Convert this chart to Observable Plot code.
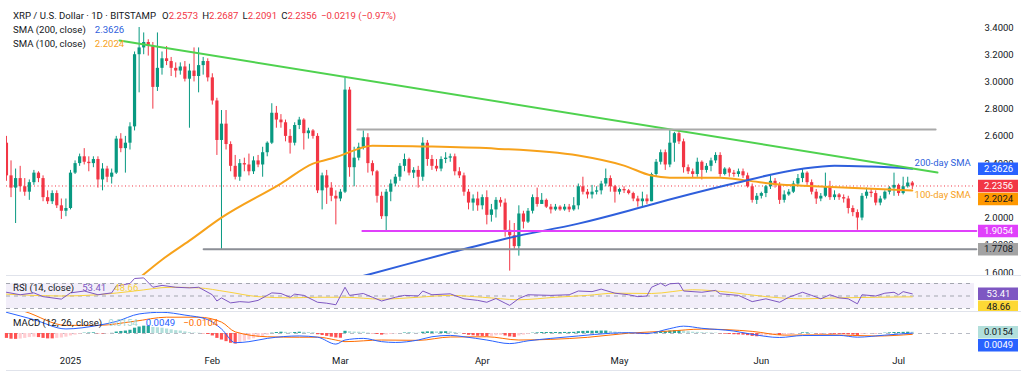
<!DOCTYPE html>
<html><head><meta charset="utf-8">
<script src="https://cdn.jsdelivr.net/npm/d3@7"></script>
<script src="https://cdn.jsdelivr.net/npm/@observablehq/plot@0.6"></script>
<style>
body{margin:0;background:#fff;}
#chart{position:relative;width:1024px;height:378px;overflow:hidden;font-family:Roboto,"Noto Sans",sans-serif;color:#131722;background:#fff;}
#chart svg{position:absolute;left:0;}
.lg{position:absolute;left:13px;font-size:9.6px;line-height:10px;white-space:pre;}
.sep{position:absolute;left:6px;width:1015px;height:1px;background:#e0e3eb;}
</style></head><body><div id="chart"></div>
<script>
// ---------------- DATA ----------------
const startDate = "2024-12-18"; // day index 0
const opens = [
2.55,2.31,2.22,2.29,2.23,2.19,2.26,2.33,2.29,2.15,
2.12,2.18,2.09,2.05,2.07,2.33,2.40,2.45,2.41,2.40,
2.43,2.28,2.36,2.30,2.33,2.58,2.51,2.55,2.67,3.20,
3.25,3.29,3.26,2.96,3.10,3.17,3.15,3.10,3.08,3.11,
3.02,3.08,3.04,3.12,3.15,3.03,2.86,2.57,2.69,2.54,
2.38,2.30,2.40,2.39,2.34,2.42,2.39,2.48,2.55,2.77,
2.72,2.70,2.60,2.55,2.68,2.72,2.62,2.64,2.60,2.20,
2.31,2.22,2.16,2.14,2.19,2.94,2.37,2.44,2.52,2.59,
2.40,2.34,2.16,2.01,2.19,2.25,2.30,2.38,2.43,2.33,
2.35,2.30,2.55,2.43,2.38,2.36,2.43,2.44,2.45,2.34,
2.31,2.19,2.11,2.14,2.09,2.15,2.02,2.06,2.13,2.11,
1.91,1.87,1.79,2.03,1.97,2.05,2.15,2.10,2.13,2.08,
2.06,2.08,2.06,2.08,2.06,2.09,2.23,2.19,2.17,2.19,
2.20,2.25,2.29,2.23,2.19,2.21,2.20,2.18,2.14,2.12,
2.14,2.12,2.32,2.41,2.48,2.39,2.55,2.62,2.56,2.37,
2.34,2.32,2.41,2.35,2.38,2.42,2.46,2.32,2.36,2.33,
2.32,2.34,2.31,2.23,2.13,2.16,2.18,2.23,2.27,2.24,
2.13,2.17,2.19,2.25,2.29,2.33,2.26,2.19,2.14,2.16,
2.23,2.15,2.17,2.15,2.14,2.07,2.04,2.00,2.16,2.19,
2.18,2.11,2.14,2.19,2.22,2.24,2.18,2.23,2.2573];
const highs = [
2.60,2.42,2.36,2.38,2.29,2.28,2.35,2.34,2.31,2.20,
2.20,2.20,2.14,2.14,2.35,2.42,2.47,2.51,2.45,2.45,
2.45,2.40,2.38,2.36,2.60,2.62,2.60,2.70,3.22,3.40,
3.36,3.31,3.29,3.36,3.22,3.26,3.18,3.14,3.14,3.15,
3.13,3.25,3.25,3.18,3.17,3.06,2.88,2.79,2.79,2.56,
2.46,2.43,2.44,2.47,2.45,2.46,2.52,2.56,2.84,2.82,
2.76,2.72,2.65,2.70,2.74,2.73,2.66,2.65,2.62,2.33,
2.35,2.26,2.20,2.21,3.03,2.96,2.52,2.55,2.64,2.62,
2.42,2.35,2.19,2.21,2.28,2.32,2.40,2.47,2.44,2.37,
2.38,2.59,2.57,2.46,2.43,2.45,2.48,2.47,2.47,2.37,
2.33,2.21,2.17,2.19,2.17,2.20,2.10,2.15,2.15,2.14,
1.98,1.96,2.09,2.05,2.07,2.17,2.22,2.18,2.14,2.10,
2.10,2.09,2.10,2.10,2.15,2.25,2.30,2.21,2.24,2.23,
2.27,2.36,2.31,2.24,2.22,2.23,2.21,2.19,2.16,2.19,
2.17,2.33,2.43,2.50,2.50,2.65,2.63,2.64,2.58,2.39,
2.36,2.44,2.42,2.40,2.44,2.48,2.48,2.37,2.37,2.35,
2.36,2.36,2.33,2.25,2.18,2.19,2.24,2.31,2.29,2.26,
2.20,2.21,2.27,2.32,2.36,2.34,2.28,2.21,2.18,2.33,
2.27,2.20,2.18,2.17,2.16,2.09,2.06,2.18,2.22,2.21,
2.20,2.16,2.20,2.23,2.33,2.25,2.30,2.30,2.2687];
const lows = [
2.27,2.15,1.96,2.19,2.16,2.13,2.24,2.26,2.12,2.10,
2.10,2.07,1.99,2.01,2.06,2.32,2.38,2.39,2.34,2.37,
2.22,2.20,2.26,2.25,2.32,2.48,2.33,2.50,2.64,2.92,
3.20,3.19,2.80,2.93,3.05,3.12,3.04,3.03,3.05,3.00,
2.66,3.00,2.92,3.05,3.00,2.83,2.46,1.77,2.50,2.34,
2.28,2.27,2.34,2.31,2.32,2.37,2.30,2.45,2.54,2.66,
2.66,2.56,2.47,2.53,2.65,2.50,2.58,2.58,2.18,2.06,
2.10,2.12,1.95,2.12,2.18,2.30,2.23,2.42,2.50,2.33,
2.31,2.11,1.99,1.90,2.12,2.23,2.27,2.34,2.31,2.29,
2.22,2.27,2.38,2.35,2.34,2.34,2.40,2.41,2.31,2.29,
2.16,2.06,2.05,2.05,2.06,1.95,1.97,2.00,2.08,1.86,
1.61,1.77,1.72,1.92,1.96,2.03,2.08,2.10,2.07,2.03,
2.05,2.05,2.05,2.04,2.05,2.06,2.17,2.14,2.14,2.17,
2.17,2.23,2.19,2.11,2.17,2.18,2.17,2.12,2.08,2.08,
2.10,2.12,2.30,2.39,2.35,2.37,2.41,2.54,2.33,2.32,
2.29,2.30,2.28,2.33,2.34,2.40,2.30,2.31,2.30,2.30,
2.30,2.29,2.22,2.11,2.10,2.14,2.15,2.21,2.22,2.10,
2.11,2.16,2.18,2.23,2.26,2.24,2.17,2.10,2.12,2.15,
2.13,2.13,2.13,2.11,2.03,2.01,1.91,1.98,2.14,2.15,
2.09,2.09,2.13,2.17,2.16,2.16,2.17,2.22,2.2091];
const closes = [
2.31,2.22,2.29,2.23,2.19,2.26,2.33,2.29,2.15,2.12,
2.18,2.09,2.05,2.07,2.33,2.40,2.45,2.41,2.40,2.43,
2.28,2.36,2.30,2.33,2.58,2.51,2.55,2.67,3.20,3.25,
3.29,3.26,2.96,3.10,3.17,3.15,3.10,3.08,3.11,3.02,
3.08,3.04,3.12,3.15,3.03,2.86,2.57,2.69,2.54,2.38,
2.30,2.40,2.39,2.34,2.42,2.39,2.48,2.55,2.77,2.72,
2.70,2.60,2.55,2.68,2.72,2.62,2.64,2.60,2.20,2.31,
2.22,2.16,2.14,2.19,2.94,2.37,2.44,2.52,2.59,2.40,
2.34,2.16,2.01,2.19,2.25,2.30,2.38,2.43,2.33,2.35,
2.30,2.55,2.43,2.38,2.36,2.43,2.44,2.45,2.34,2.31,
2.19,2.11,2.14,2.09,2.15,2.02,2.06,2.13,2.11,1.91,
1.87,1.79,2.03,1.97,2.05,2.15,2.10,2.13,2.08,2.06,
2.08,2.06,2.08,2.06,2.09,2.23,2.19,2.17,2.19,2.20,
2.25,2.29,2.23,2.19,2.21,2.20,2.18,2.14,2.12,2.14,
2.12,2.32,2.41,2.48,2.39,2.55,2.62,2.56,2.37,2.34,
2.32,2.41,2.35,2.38,2.42,2.46,2.32,2.36,2.33,2.32,
2.34,2.31,2.23,2.13,2.16,2.18,2.23,2.27,2.24,2.13,
2.17,2.19,2.25,2.29,2.33,2.26,2.19,2.14,2.16,2.23,
2.15,2.17,2.15,2.14,2.07,2.04,2.00,2.16,2.19,2.18,
2.11,2.14,2.19,2.22,2.24,2.18,2.23,2.2573,2.2356];

// moving averages (day index, price)
const sma100Days = [28,34,40,47,60,67,71,73,80,93,107,125,135,141,145,156,162,169,174,198];
const sma100Vals = [1.53,1.694,1.834,2.003,2.253,2.40,2.437,2.459,2.532,2.525,2.51,2.459,2.385,2.312,2.297,2.297,2.275,2.246,2.238,2.2024];
const sma200Days = [74,79,97,110,125,136,140,158,174,181,189,198];
const sma200Vals = [1.54,1.584,1.746,1.856,1.959,2.054,2.091,2.246,2.363,2.385,2.378,2.3626];

// drawn lines (day index, price)
const trendDays = [24.7,203.5], trendPrices = [3.304,2.334];
const rangeTopDays = [76.7,203.1], rangeTopPrice = 2.65;
const supportDays = [77.8,212], supportPrice = 1.9054;
const floorDays = [43.1,212], floorPrice = 1.7708;
const lastPrice = 2.2356;

const priceTicks = [1.6,1.8,2.0,2.2,2.4,2.6,2.8,3.0,3.2,3.4];
const priceTagValues = [2.3626,2.2356,2.2024,1.9054,1.7708];
const noteDays = [198.5,198.5], notePrices = [2.404,2.172], noteTexts = ["200-day SMA","100-day SMA"];

// RSI (14) and its MA
const rsiDays = [0,3,6,8,12,14,17,20,23,24,27,28,30,32,34,37,40,42,45,46,47,49,51,53,55,58,60,62,63,65,68,70,72,74,75,78,80,82,85,87,90,91,93,97,100,103,105,107,109,110,112,114,119,123,125,128,130,133,136,138,140,141,143,144,145,147,148,152,155,156,160,163,166,169,171,174,176,178,180,182,184,186,187,190,192,194,195,196,198];
const rsiVals = [56,52,55,49,45,55,58,52,55,66,70,78,79,64,67,64,63,64,52,42,47,39,41,40,43,55,54,48,53,51,40,38.5,36,64,51,54,48,42,48,51,50,58,52,53.5,45.5,43,40,46,38.5,35,46,52,51,52,58,57,61,54.5,52,49,50,64,70.5,66,69.5,70.5,58,56,59,53.5,51,41,45.5,40,48,56,51,45.5,52,47,45.5,37.5,52,50,54.5,56,52,57,53.41];
const rsiMaDays = [0,6,12,20,28,36,42,48,55,62,68,74,82,90,97,104,112,120,127,133,141,150,158,166,174,182,190,198];
const rsiMaVals = [53,51,50,52,58,64,63,57,49,47,48,48,45,48,51,48,44,48,51,54.5,54,60,56,49,45.5,47,48,48.66];
const rsiLevels = [70,50,30];
const rsiTagValues = [53.41,48.66];

// MACD (12, 26)
const macdDays = [0,6,13,20,24,29,34,39,44,47,50,53,57,64,68,72,74,78,82,85,90,93,97,100,105,110,114,119,125,132,136,140,145,148,152,159,163,169,174,182,186,192,198];
const macdVals = [0.26,0.17,0.056,0.10,0.147,0.24,0.26,0.226,0.17,0.056,-0.113,-0.10,-0.06,-0.03,-0.045,-0.13,-0.08,-0.06,-0.10,-0.11,-0.08,-0.04,-0.023,-0.04,-0.08,-0.124,-0.09,-0.06,-0.03,0.003,0.01,0.0,0.06,0.09,0.064,0.03,-0.01,-0.049,-0.025,-0.023,-0.045,-0.02,0.0049];
const signalDays = [0,4,13,20,28,35,42,47,50,57,64,68,72,74,82,90,97,105,112,119,127,136,145,152,163,170,180,190,198];
const signalVals = [0.33,0.27,0.10,0.10,0.15,0.20,0.20,0.14,0.02,-0.04,-0.046,-0.045,-0.08,-0.10,-0.08,-0.084,-0.043,-0.04,-0.08,-0.072,-0.047,0.004,0.03,0.054,0.026,-0.02,-0.016,-0.031,-0.0104];
const histVals = [
-0.060,-0.070,-0.072,-0.068,-0.060,-0.050,-0.045,-0.050,-0.060,-0.066,-0.066,-0.060,-0.055,-0.045,
-0.030,-0.020,-0.008,0.004,0.006,0.008,-0.004,-0.006,-0.004,
0.002,0.018,0.025,0.030,0.040,0.065,0.080,0.090,0.090,
0.075,0.070,0.065,0.055,0.045,0.035,0.030,0.020,0.010,
0.006,0.003,-0.004,-0.012,
-0.030,-0.060,-0.080,-0.100,-0.120,-0.130,
-0.110,-0.095,-0.080,-0.065,-0.050,-0.035,-0.020,
0.004,0.012,0.016,0.014,0.010,0.012,0.016,0.014,0.012,0.010,
-0.015,-0.025,-0.035,-0.045,-0.055,-0.058,
0.027,0.022,0.018,0.016,0.015,0.006,
-0.004,-0.012,-0.020,-0.018,-0.012,
-0.006,0.000,0.006,0.006,0.005,0.004,
0.016,0.020,0.020,0.019,0.020,0.022,
0.020,0.012,0.004,
-0.010,-0.022,-0.028,-0.034,-0.036,-0.040,
-0.035,-0.028,-0.022,
-0.030,-0.042,-0.048,-0.030,
-0.020,-0.010,0.004,0.008,0.012,0.012,0.012,
0.012,0.012,0.013,0.013,0.014,
0.022,0.026,0.027,0.028,0.028,0.030,0.030,0.025,
0.018,0.014,0.010,0.006,
-0.004,-0.010,-0.012,-0.014,
0.000,0.010,0.020,0.022,0.030,0.034,0.034,
0.028,0.022,0.016,0.014,0.010,0.008,0.006,0.005,
-0.004,-0.008,-0.012,-0.015,-0.017,-0.020,-0.026,-0.036,-0.040,-0.038,-0.032,
-0.026,-0.022,-0.024,-0.020,-0.014,-0.008,
0.000,0.008,0.008,0.004,
-0.004,-0.006,-0.005,-0.008,-0.010,-0.010,-0.012,-0.016,-0.020,-0.024,
-0.014,-0.008,-0.004,-0.004,0.000,0.004,0.008,0.012,0.012,0.014,0.016,0.0154];
const macdTagValues = [0.0154,0.0049];

const monthTicks = ["2025-01-01","2025-02-01","2025-03-01","2025-04-01","2025-05-01","2025-06-01","2025-07-01"];
const legendTitle = "XRP / U.S. Dollar · 1D · BITSTAMP";
const legendChange = "−0.0219 (−0.97%)";

// ---------------- STYLE / LAYOUT ----------------
const FONT = "Roboto, 'Noto Sans', sans-serif";
const INK = "#131722";
const UP = "#089981", DOWN = "#f23645";
const C_SMA100 = "#f7a21b", C_SMA200 = "#2f5fdc", C_TREND = "#4fd24f", C_RANGE = "#a9a9a9",
      C_SUPPORT = "#e040fb", C_FLOOR = "#8c8f96", C_RSI = "#7e57c2", C_RSIMA = "#f9d23c",
      C_MACD = "#2962ff", C_SIGNAL = "#ff6d00";
const noteColors = [C_SMA200, C_SMA100];
const priceTagFills = ["#2962ff", DOWN, "#ff9800", "#e040fb", "#a3a3a3"];
const priceTagInk = ["#fff", "#fff", INK, "#fff", INK];
const rsiTagFills = ["#7e57c2", "#fdd835"], rsiTagInk = ["#fff", INK];
const macdTagFills = ["#b2dfdb", "#2962ff"], macdTagInk = [INK, "#fff"];

const W = 1024, DAY = 864e5, PX_PER_DAY = 4.575, X_JAN1 = 70, ML = 6, MR = 50;
const TAG_LEFT = 978, TAG_RIGHT = 1018, TAG_H = 12.5, LABEL_H = 9;
const jan1 = Date.UTC(2025, 0, 1);
const xScale = {type: "utc", domain: [new Date(jan1 - X_JAN1 / PX_PER_DAY * DAY), new Date(jan1 + (W - X_JAN1) / PX_PER_DAY * DAY)], range: [0, W], axis: null};
const start = new Date(startDate);
const dayDate = d => new Date(+start + d * DAY);
const series = (days, vals) => days.map((d, i) => ({date: dayDate(d), value: vals[i]}));

const candles = closes.map((c, i) => ({date: dayDate(i), open: opens[i], high: highs[i], low: lows[i], close: c}));
const candleColor = d => d.close >= d.open ? UP : DOWN;

// label boxes on the price scale, pushed apart like the reference
function tagLayout(values, yspec) {
  const ys = d3.scaleLinear(yspec.domain, yspec.range);
  const order = values.map((v, i) => i).sort((a, b) => ys(values[a]) - ys(values[b]));
  const centers = new Array(values.length);
  let prev = -Infinity;
  for (const i of order) {
    centers[i] = Math.max(ys(values[i]), prev + TAG_H + 0.5);
    prev = centers[i];
  }
  return {ys, centers};
}
function tagMarks(values, fills, inks, yspec, fmt) {
  const {ys, centers} = tagLayout(values, yspec);
  const frameRight = W - MR;
  return values.flatMap((v, i) => [
    Plot.ruleY([v], {stroke: fills[i], strokeWidth: TAG_H, insetLeft: TAG_LEFT - ML, insetRight: frameRight - TAG_RIGHT, dy: centers[i] - ys(v)}),
    Plot.text([v], {y: d => d, text: fmt, frameAnchor: "right", dx: (TAG_LEFT + TAG_RIGHT) / 2 - frameRight, dy: centers[i] - ys(v), fill: inks[i], fontSize: 9.5, textAnchor: "middle"})
  ]);
}
// an axis label that lies fully under the label boxes is not drawn (as on the reference)
function visibleTicks(ticks, values, yspec) {
  const {ys, centers} = tagLayout(values, yspec);
  const boxes = centers.map(c => [c - TAG_H / 2 - 0.6, c + TAG_H / 2 + 0.6]);
  return ticks.filter(t => {
    const a = ys(t) - LABEL_H / 2, b = ys(t) + LABEL_H / 2;
    let y = a;
    for (const [lo, hi] of boxes.slice().sort((p, q) => p[0] - q[0])) if (lo <= y && hi > y) y = hi;
    return y < b;
  });
}

const chart = document.getElementById("chart");
const baseStyle = {fontFamily: FONT, fontSize: "9px", background: "transparent", overflow: "hidden", color: INK};

// ---------- main pane ----------
const yMain = {domain: [1.6, 3.4], range: [272, 27]};
const mainPlot = Plot.plot({
  width: W, height: 276, marginLeft: ML, marginRight: MR, marginTop: 0, marginBottom: 0,
  x: xScale, y: yMain, style: baseStyle,
  marks: [
    Plot.ruleY([lastPrice], {stroke: DOWN, strokeDasharray: "1,2.5", strokeWidth: 1}),
    Plot.ruleX(candles, {x: "date", y1: "low", y2: "high", stroke: candleColor, strokeWidth: 1, clip: true}),
    Plot.ruleX(candles, {x: "date", y1: "open", y2: "close", stroke: candleColor, strokeWidth: 3.2, clip: true}),
    Plot.line(series(sma100Days, sma100Vals), {x: "date", y: "value", stroke: C_SMA100, strokeWidth: 2, curve: "monotone-x", clip: true}),
    Plot.line(series(sma200Days, sma200Vals), {x: "date", y: "value", stroke: C_SMA200, strokeWidth: 2, curve: "monotone-x", clip: true}),
    Plot.line(series(trendDays, trendPrices), {x: "date", y: "value", stroke: C_TREND, strokeWidth: 2}),
    Plot.line(series(rangeTopDays, rangeTopDays.map(() => rangeTopPrice)), {x: "date", y: "value", stroke: C_RANGE, strokeWidth: 2}),
    Plot.line(series(supportDays, supportDays.map(() => supportPrice)), {x: "date", y: "value", stroke: C_SUPPORT, strokeWidth: 2}),
    Plot.line(series(floorDays, floorDays.map(() => floorPrice)), {x: "date", y: "value", stroke: C_FLOOR, strokeWidth: 2}),
    Plot.text(noteTexts, {x: (d, i) => dayDate(noteDays[i]), y: (d, i) => notePrices[i], text: d => d, fill: (d, i) => noteColors[i], textAnchor: "start", fontSize: 9.5}),
    Plot.axisY({anchor: "right", ticks: visibleTicks(priceTicks, priceTagValues, yMain), tickSize: 0, tickPadding: 10, tickFormat: d3.format(".4f"), fill: INK, fontSize: 9.5}),
    ...tagMarks(priceTagValues, priceTagFills, priceTagInk, yMain, d => d.toFixed(4))
  ]
});
mainPlot.style.top = "0px";
chart.appendChild(mainPlot);

// ---------- RSI pane ----------
const yRsi = {domain: [30, 70], range: [32, 7], axis: null};
const rsiPlot = Plot.plot({
  width: W, height: 35, marginLeft: ML, marginRight: MR, marginTop: 0, marginBottom: 0,
  x: xScale, y: yRsi, style: baseStyle,
  marks: [
    Plot.rect([0], {y1: rsiLevels[2], y2: rsiLevels[0], fill: C_RSI, fillOpacity: 0.1}),
    Plot.ruleY(rsiLevels, {stroke: "#a3a6af", strokeDasharray: "4,4", strokeWidth: 1}),
    Plot.line(series(rsiMaDays, rsiMaVals), {x: "date", y: "value", stroke: C_RSIMA, strokeWidth: 1, curve: "monotone-x"}),
    Plot.line(series(rsiDays, rsiVals), {x: "date", y: "value", stroke: C_RSI, strokeWidth: 1}),
    ...tagMarks(rsiTagValues, rsiTagFills, rsiTagInk, yRsi, d => d.toFixed(2))
  ]
});
rsiPlot.style.top = "276px";
chart.appendChild(rsiPlot);

// ---------- MACD pane ----------
const MACD_ZERO = 22, MACD_PX = 81.5;
const yMacd = {domain: [-0.2, 0.27], range: [MACD_ZERO + 0.2 * MACD_PX, MACD_ZERO - 0.27 * MACD_PX], axis: null};
const hist = histVals.map((v, i) => ({date: dayDate(i), value: v, prev: i ? histVals[i - 1] : v}));
const histColor = d => d.value >= 0 ? (d.value >= d.prev ? "#26a69a" : "#b2dfdb") : (d.value <= d.prev ? "#ff5252" : "#ffcdd2");
const macdPlot = Plot.plot({
  width: W, height: 67, marginLeft: ML, marginRight: MR, marginTop: 0, marginBottom: 29,
  x: xScale, y: yMacd, style: baseStyle,
  marks: [
    Plot.ruleY([0], {stroke: "#b8bbc4", strokeDasharray: "4,4", strokeWidth: 1}),
    Plot.ruleX(hist, {x: "date", y1: 0, y2: "value", stroke: histColor, strokeWidth: 3.2}),
    Plot.line(series(signalDays, signalVals), {x: "date", y: "value", stroke: C_SIGNAL, strokeWidth: 1, curve: "monotone-x", clip: true}),
    Plot.line(series(macdDays, macdVals), {x: "date", y: "value", stroke: C_MACD, strokeWidth: 1, curve: "monotone-x", clip: true}),
    Plot.axisX({ticks: monthTicks.map(s => new Date(s)), tickSize: 0, tickPadding: 8, fontSize: 9.5, fill: INK,
      tickFormat: d => d.getUTCMonth() === 0 ? String(d.getUTCFullYear()) : d3.utcFormat("%b")(d)}),
    ...tagMarks(macdTagValues, macdTagFills, macdTagInk, yMacd, d => d.toFixed(4))
  ]
});
macdPlot.style.top = "311px";
chart.appendChild(macdPlot);

// ---------- separators ----------
for (const t of [275, 311, 370]) {
  const s = document.createElement("div"); s.className = "sep"; s.style.top = t + "px"; chart.appendChild(s);
}

// ---------- legends ----------
const last = closes.length - 1;
const f4 = v => v.toFixed(4);
function legend(top, parts) {
  const div = document.createElement("div");
  div.className = "lg"; div.style.top = top + "px";
  for (const [text, color, gap] of parts) {
    const s = document.createElement("span");
    s.textContent = text; s.style.color = color || INK;
    if (gap) s.style.marginLeft = gap + "px";
    div.appendChild(s);
  }
  chart.appendChild(div);
}
legend(11, [[legendTitle], ["O", INK, 6], [f4(opens[last]), DOWN], ["H", INK, 4], [f4(highs[last]), DOWN],
  ["L", INK, 4], [f4(lows[last]), DOWN], ["C", INK, 4], [f4(closes[last]), DOWN], [legendChange, DOWN, 4]]);
legend(25, [["SMA (200, close)"], [f4(priceTagValues[0]), C_SMA200, 9]]);
legend(39, [["SMA (100, close)"], [f4(priceTagValues[2]), C_SMA100, 9]]);
legend(283, [["RSI (14, close)"], [rsiTagValues[0].toFixed(2), C_RSI, 8], [rsiTagValues[1].toFixed(2), C_RSIMA, 8]]);
legend(318, [["MACD (12, 26, close)"], [f4(macdTagValues[0]), "#9fd3cd", 6], [f4(macdTagValues[1]), C_MACD, 8], [f4(signalVals[signalVals.length - 1]).replace("-", "−"), C_SIGNAL, 8]]);
</script></body></html>
